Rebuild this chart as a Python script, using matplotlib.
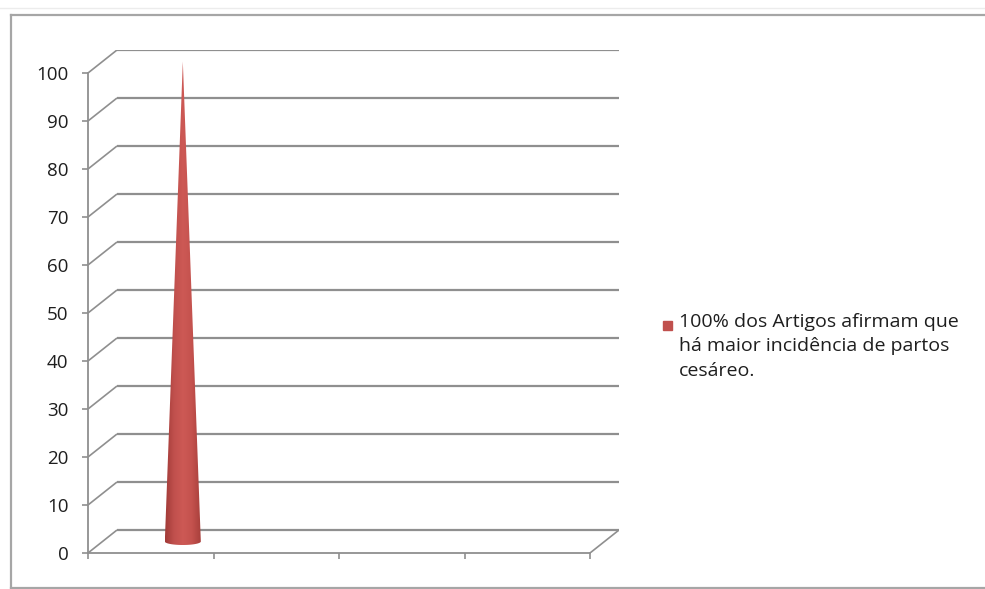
import numpy as np
import matplotlib.pyplot as plt
from matplotlib.patches import Polygon
from matplotlib.lines import Line2D
from matplotlib.colors import LinearSegmentedColormap

# dados
categorias = ["", "", "", ""]
valores = [100]
serie = "100% dos Artigos afirmam que\nhá maior incidência de partos\ncesáreo."
y_ticks = list(range(0, 101, 10))

W, H = 985, 589
fig = plt.figure(figsize=(W / 100, H / 100), dpi=100)
plt.rcParams['font.family'] = ['Open Sans', 'DejaVu Sans']

# eixo: frente de x=88 a 590 px, valor 0 em y=553, 100 em y=73
px_x = (590 - 88) / len(categorias)
px_y = (553 - 73) / 100
dx = 29 / px_x          # profundidade (em unidades de categoria)
dy = 23 / px_y          # profundidade (em unidades de valor)
ax = fig.add_axes([88 / W, (H - 553) / H, (590 - 88 + 29) / W, (553 - 73 + 23) / H])
ax.set_xlim(0, len(categorias) + dx)
ax.set_ylim(0, 100 + dy)
ax.patch.set_alpha(0)

grid_c = "#8f8f8f"
for s in ["top", "right"]:
    ax.spines[s].set_visible(False)
ax.spines["left"].set_bounds(0, 100)
ax.spines["bottom"].set_bounds(0, len(categorias))
for s in ["left", "bottom"]:
    ax.spines[s].set_color(grid_c)
    ax.spines[s].set_linewidth(1.3)

ax.set_yticks(y_ticks)
ax.set_yticklabels([str(v) for v in y_ticks], fontsize=13.5, color="#1e1e1e")
ax.set_xticks(np.arange(len(categorias) + 1))
ax.set_xticklabels([""] * (len(categorias) + 1))
ax.tick_params(axis="both", direction="out", length=4, width=1.2, color=grid_c)
ax.tick_params(axis="y", pad=10)

# linhas de grade na parede do fundo
for v in y_ticks:
    ax.plot([0, dx], [v, v + dy], color=grid_c, lw=1.2, solid_capstyle="butt")
    ax.plot([dx, len(categorias) + dx], [v + dy, v + dy], color=grid_c, lw=1.6,
            solid_capstyle="butt")
ax.plot([len(categorias), len(categorias) + dx], [0, dy], color=grid_c, lw=1.2)

# cone
cmap = LinearSegmentedColormap.from_list(
    "cone", ["#a13a37", "#c0504d", "#cd5955", "#c4524e", "#a83f3b"])
r = 18 / px_x
e = 3.5 / px_y
for i, v in enumerate(valores):
    c = i + 0.64 + dx / 2
    y0 = dy / 2
    t = np.linspace(np.pi, 2 * np.pi, 40)
    base = np.column_stack([c + r * np.cos(t), y0 + e * np.sin(t)])
    pts = np.vstack([[c, v + y0], base])
    cone = Polygon(pts, closed=True, facecolor="none", edgecolor="none")
    ax.add_patch(cone)
    grad = np.linspace(0, 1, 256).reshape(1, -1)
    im = ax.imshow(grad, cmap=cmap, aspect="auto",
                   extent=[c - r, c + r, y0 - e, v + y0], zorder=3)
    im.set_clip_path(cone)

# legenda
fig.patches.append(plt.Rectangle((663 / W, (H - 330) / H), 9 / W, 9 / H,
                                 transform=fig.transFigure, color="#c0504d"))
fig.text(679 / W, (H - 313) / H, serie, fontsize=14, color="#1e1e1e", va="top",
         linespacing=1.45, transform=fig.transFigure)

# moldura do gráfico
bc = "#a6a6a6"
fig.add_artist(Line2D([11 / W, 1], [(H - 15) / H] * 2, color=bc, lw=1.6,
                      transform=fig.transFigure))
fig.add_artist(Line2D([11 / W] * 2, [(H - 15) / H, (H - 588) / H], color=bc,
                      lw=1.6, transform=fig.transFigure))
fig.add_artist(Line2D([11 / W, 1], [(H - 588) / H] * 2, color=bc, lw=1.6,
                      transform=fig.transFigure))
fig.add_artist(Line2D([0, 1], [(H - 8) / H] * 2, color="#ececec", lw=1,
                      transform=fig.transFigure))

fig.savefig("out.png", dpi=100)
